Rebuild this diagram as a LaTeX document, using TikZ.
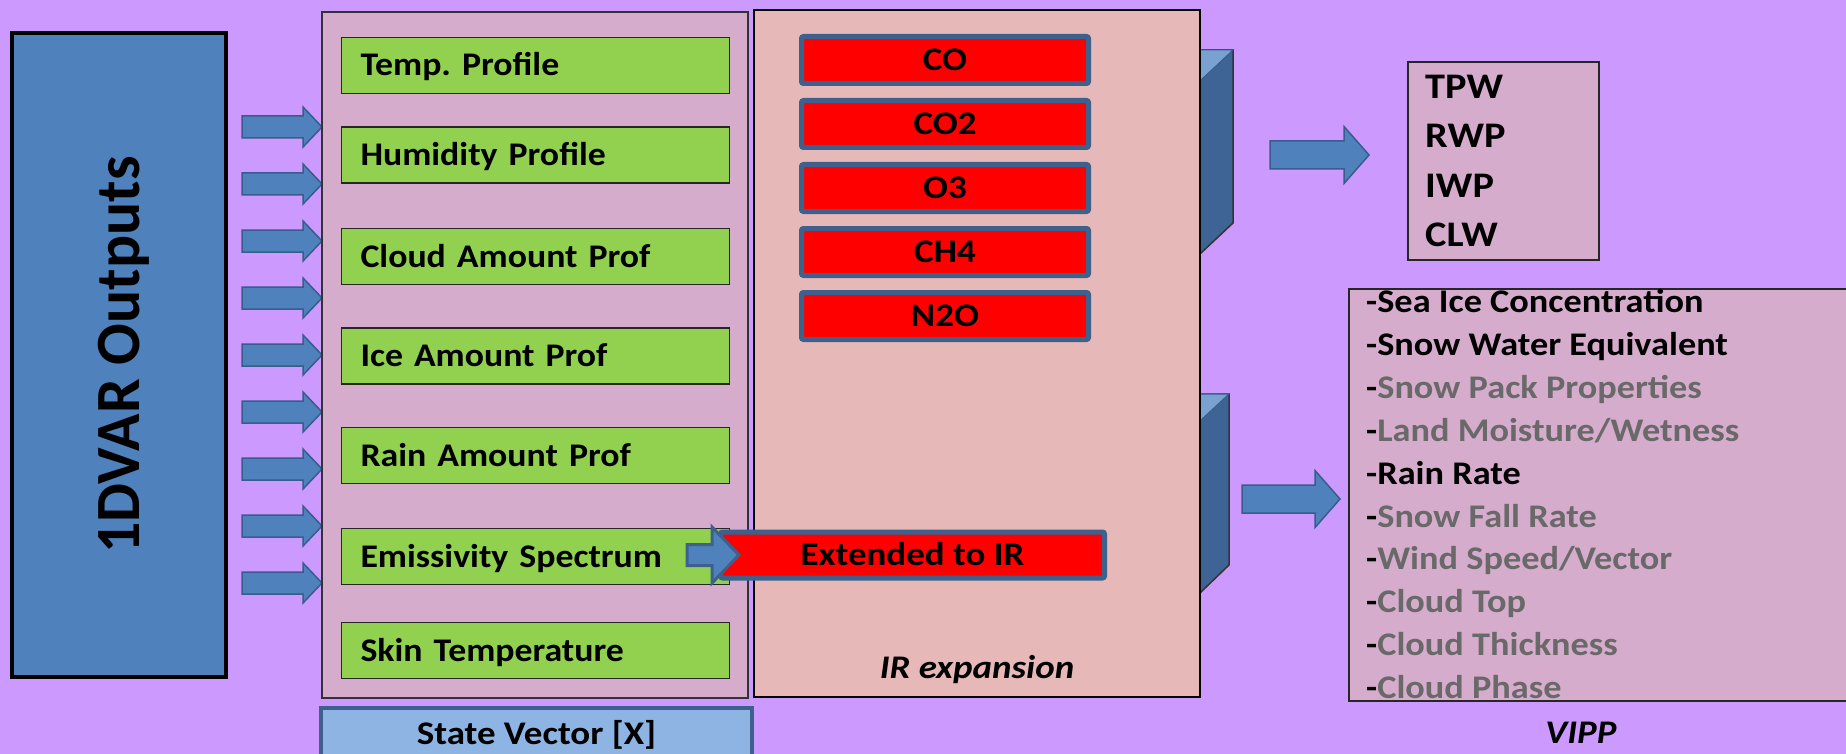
\documentclass[tikz,border=0pt]{standalone}
\usepackage{fontspec}
\setmainfont{Carlito}
\newfontfamily\wf[FakeStretch=1.12]{Carlito}
\newfontfamily\gf[FakeStretch=1.085]{Carlito}
\newfontfamily\lf[FakeStretch=1.10]{Carlito}
\newfontfamily\tf[FakeStretch=0.98]{Carlito}
\frenchspacing
\definecolor{cbg}{RGB}{204,153,255}
\definecolor{cpink}{RGB}{214,172,204}
\definecolor{cir}{RGB}{230,184,183}
\definecolor{cgreen}{RGB}{146,208,80}
\definecolor{cblue}{RGB}{79,129,189}
\definecolor{cdark}{RGB}{56,93,138}
\definecolor{cborder}{RGB}{62,96,140}
\definecolor{ccube}{RGB}{62,100,150}
\definecolor{clight}{RGB}{122,162,208}
\definecolor{csv}{RGB}{141,180,226}
\definecolor{cgray}{RGB}{105,105,105}
\newcommand\blockarrow[6]{%
  \draw[barrow] (#1,{#4-#5}) -- (#2,{#4-#5}) -- (#2,{#4-#6}) -- (#3,#4) -- (#2,{#4+#6}) -- (#2,{#4+#5}) -- (#1,{#4+#5}) -- cycle;}
\tikzset{
  barrow/.style={fill=cblue, draw=cdark, line width=1.5pt, line join=miter},
  gbox/.style={draw=black!85, line width=1.5pt, fill=cgreen, minimum width=388pt, minimum height=56pt,
    inner xsep=19pt, inner ysep=0pt, text width=350pt, align=left,
    font=\gf\bfseries\fontsize{33}{36}\selectfont, text height=21pt, text depth=0pt},
  rbox/.style={draw=cborder, line width=5pt, fill=red, rounded corners=2pt, minimum width=287pt,
    minimum height=47pt, inner sep=0pt, font=\wf\bfseries\fontsize{33}{36}\selectfont,
    text height=21pt, text depth=0pt},
  lbl/.style={inner sep=0pt, font=\wf\bfseries\fontsize{33}{36}\selectfont, text height=21pt, text depth=0pt},
  listtxt/.style={inner sep=0pt, anchor=base west, font=\lf\bfseries\fontsize{33}{36}\selectfont},
}
\begin{document}
\begin{tikzpicture}[x=1pt,y=-1pt]
\useasboundingbox (0,0) rectangle (1846,754);
\fill[cbg] (0,0) rectangle (1846,754);
\clip (0,0) rectangle (1846,754);

% 1DVAR outputs
\node[draw=black, line width=4pt, fill=cblue, rotate=90, minimum width=644pt, minimum height=214pt,
  inner sep=0pt, font=\tf\bfseries\fontsize{63}{68}\selectfont, text height=40pt, text depth=0pt]
  (dvar) at (119,355) {1DVAR Outputs};

% input arrows
\foreach \k in {0,...,8} {
  \pgfmathsetmacro\yc{127+57*\k}
  \blockarrow{242}{303}{322}{\yc}{11}{20}
}

% state vector box
\node[draw=black!80, line width=2pt, fill=cpink, minimum width=426pt, minimum height=685pt, inner sep=0pt]
  (state) at (534.5,355) {};
\node[gbox] (temp) at (535.5,65.5) {Temp. Profile};
\node[gbox] (hum) at (535.5,155) {Humidity Profile};
\node[gbox] (cloud) at (535.5,256.5) {Cloud Amount Prof};
\node[gbox] (ice) at (535.5,356) {Ice Amount Prof};
\node[gbox] (rain) at (535.5,455.5) {Rain Amount Prof};
\node[gbox] (emis) at (535.5,556.5) {Emissivity Spectrum};
\node[gbox] (skin) at (535.5,650.5) {Skin Temperature};

% cubes behind IR box
\draw[fill=ccube, draw=black!80, line width=1.5pt] (1190,50) -- (1233,50) -- (1233,223) -- (1201,253) -- (1190,253) -- cycle;
\draw[fill=clight, draw=cdark, line width=1pt] (1190,50) -- (1233,50) -- (1201,80) -- (1190,80) -- cycle;
\draw[fill=ccube, draw=black!80, line width=1.5pt] (1190,394) -- (1229,394) -- (1229,565) -- (1201,592) -- (1190,592) -- cycle;
\draw[fill=clight, draw=cdark, line width=1pt] (1190,394) -- (1229,394) -- (1201,420) -- (1190,420) -- cycle;

% IR expansion box
\node[draw=black, line width=2pt, fill=cir, minimum width=446pt, minimum height=687pt, inner sep=0pt]
  (ir) at (977,353.5) {};
\node[rbox] (co) at (945,60) {CO};
\node[rbox] (co2) at (945,124) {CO2};
\node[rbox] (o3) at (945,188) {O3};
\node[rbox] (ch4) at (945,252) {CH4};
\node[rbox] (n2o) at (945,316) {N2O};
\node[rbox, minimum width=384pt, minimum height=46pt] (ext) at (912.5,555) {Extended to IR};
\node[lbl, font=\wf\bfseries\itshape\fontsize{33}{36}\selectfont] (irlbl) at (977,667.5) {IR expansion};

% emissivity -> extended arrow
\draw[barrow, draw=cborder, line width=3pt] (687,544.5) -- (712,544.5) -- (712,527) -- (739,555) -- (712,583) -- (712,565.5) -- (687,565.5) -- cycle;

% state vector label box
\node[draw=cborder, line width=4pt, fill=csv, minimum width=431pt, minimum height=70pt, inner sep=0pt]
  (svbox) at (536.5,743) {};
\node[lbl] (svlbl) at (536.5,733.5) {State Vector [X]};

% output arrows
\blockarrow{1270}{1344}{1369}{155}{14}{28.5}
\blockarrow{1242}{1315}{1340}{499}{14}{28.5}

% TPW box
\node[draw=black!85, line width=2pt, fill=cpink, minimum width=191pt, minimum height=198pt, inner sep=0pt]
  (tpwbox) at (1503.5,161) {};
\foreach \t [count=\i from 0] in {TPW,RWP,IWP,CLW} {
  \node[inner sep=0pt, anchor=base west, font=\wf\bfseries\fontsize{36}{40}\selectfont] (p\i) at (1425,{87+49.3*\i+11.5}) {\t};
}

% VIPP box
\node[draw=black!85, line width=2pt, fill=cpink, minimum width=520pt, minimum height=412pt, inner sep=0pt]
  (vippbox) at (1609,495) {};
\node[listtxt] (v0) at (1366,{302+10.5}) {-Sea Ice Concentration};
\node[listtxt] (v1) at (1366,{302+42.9*1+10.5}) {-Snow Water Equivalent};
\node[listtxt] (v2) at (1366,{302+42.9*2+10.5}) {-\textcolor{cgray}{Snow Pack Properties}};
\node[listtxt] (v3) at (1366,{302+42.9*3+10.5}) {-\textcolor{cgray}{Land Moisture/Wetness}};
\node[listtxt] (v4) at (1366,{302+42.9*4+10.5}) {-Rain Rate};
\node[listtxt] (v5) at (1366,{302+42.9*5+10.5}) {-\textcolor{cgray}{Snow Fall Rate}};
\node[listtxt] (v6) at (1366,{302+42.9*6+10.5}) {-\textcolor{cgray}{Wind Speed/Vector}};
\node[listtxt] (v7) at (1366,{302+42.9*7+10.5}) {-\textcolor{cgray}{Cloud Top}};
\node[listtxt] (v8) at (1366,{302+42.9*8+10.5}) {-\textcolor{cgray}{Cloud Thickness}};
\node[listtxt] (v9) at (1366,{302+42.9*9+10.5}) {-\textcolor{cgray}{Cloud Phase}};
\node[lbl, font=\wf\bfseries\itshape\fontsize{33}{36}\selectfont] (vipp) at (1581,732.5) {VIPP};
\end{tikzpicture}
\end{document}
